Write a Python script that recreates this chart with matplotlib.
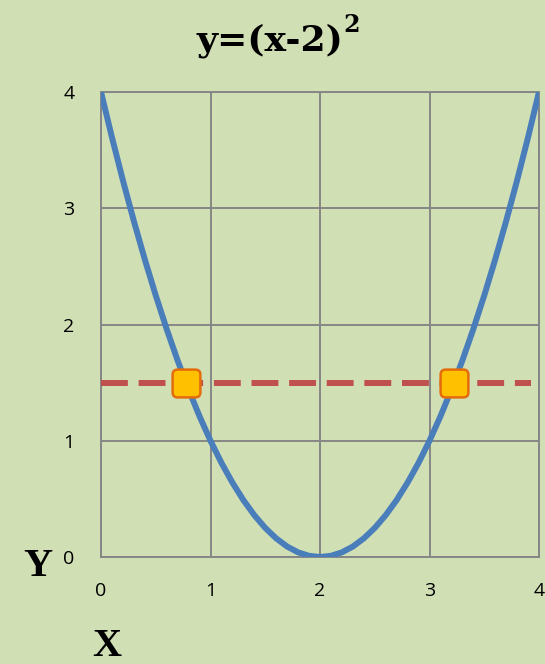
import matplotlib.pyplot as plt
from matplotlib.patches import FancyBboxPatch

# parabola y=(x-2)^2 sampled at 0.1 steps
x = [0.0, 0.1, 0.2, 0.3, 0.4, 0.5, 0.6, 0.7, 0.8, 0.9, 1.0,
     1.1, 1.2, 1.3, 1.4, 1.5, 1.6, 1.7, 1.8, 1.9, 2.0,
     2.1, 2.2, 2.3, 2.4, 2.5, 2.6, 2.7, 2.8, 2.9, 3.0,
     3.1, 3.2, 3.3, 3.4, 3.5, 3.6, 3.7, 3.8, 3.9, 4.0]
y = [4.00, 3.61, 3.24, 2.89, 2.56, 2.25, 1.96, 1.69, 1.44, 1.21, 1.00,
     0.81, 0.64, 0.49, 0.36, 0.25, 0.16, 0.09, 0.04, 0.01, 0.00,
     0.01, 0.04, 0.09, 0.16, 0.25, 0.36, 0.49, 0.64, 0.81, 1.00,
     1.21, 1.44, 1.69, 1.96, 2.25, 2.56, 2.89, 3.24, 3.61, 4.00]
# horizontal line y=1.5 and its intersections
line_x = [0.0, 3.93]
line_y = [1.5, 1.5]
cross_x = [0.78, 3.22]
cross_y = [1.5, 1.5]
ticks = [0, 1, 2, 3, 4]

bg = '#d1dfb5'
fig = plt.figure(figsize=(5.45, 6.64), dpi=100, facecolor=bg)
axe = fig.add_axes([101/545, 1-557/664, 438/545, 465/664])
axe.set_facecolor(bg)

# rounded square marker
rsq = FancyBboxPatch((-0.5, -0.5), 1, 1,
                     boxstyle='round,pad=0,rounding_size=0.18').get_path()

axe.plot(x, y, color='#4a7ebb', linewidth=4.3, solid_capstyle='butt', zorder=3)
axe.plot(line_x, line_y, color='#c0504d', linewidth=4.3,
         dashes=(4.5, 1.8), dash_capstyle='butt', zorder=3)
axe.plot(cross_x, cross_y, linestyle='none', marker=rsq, markersize=20,
         markerfacecolor='#ffc000', markeredgecolor='#e46c0a',
         markeredgewidth=1.8, zorder=4)

axe.set_xlim(0, 4)
axe.set_ylim(0, 4)
axe.set_xticks(ticks)
axe.set_yticks(ticks)
axe.grid(True, color='#868686', linewidth=1.4)
for s in axe.spines.values():
    s.set_color('#868686')
    s.set_linewidth(1.4)
axe.tick_params(length=0, labelsize=14, colors='black')
axe.tick_params(axis='x', pad=18)
axe.tick_params(axis='y', pad=19)
for lab in axe.get_xticklabels() + axe.get_yticklabels():
    lab.set_family('Open Sans')

serif = dict(family='Liberation Serif', fontweight='bold', color='black')
title = dict(family='DejaVu Serif', fontweight='bold', color='black')
fig.text(343/545, 1-50/664, 'y=(x-2)', fontsize=26, ha='right', va='baseline', **title)
fig.text(343/545, 1-32/664, '2', fontsize=17, ha='left', va='baseline', **title)
fig.text(38/545, 1-567/664, 'Y', fontsize=29, ha='center', va='center', **serif)
fig.text(107/545, 1-647/664, 'X', fontsize=29, ha='center', va='center', **serif)

fig.savefig('out.png', dpi=100, facecolor=bg)
